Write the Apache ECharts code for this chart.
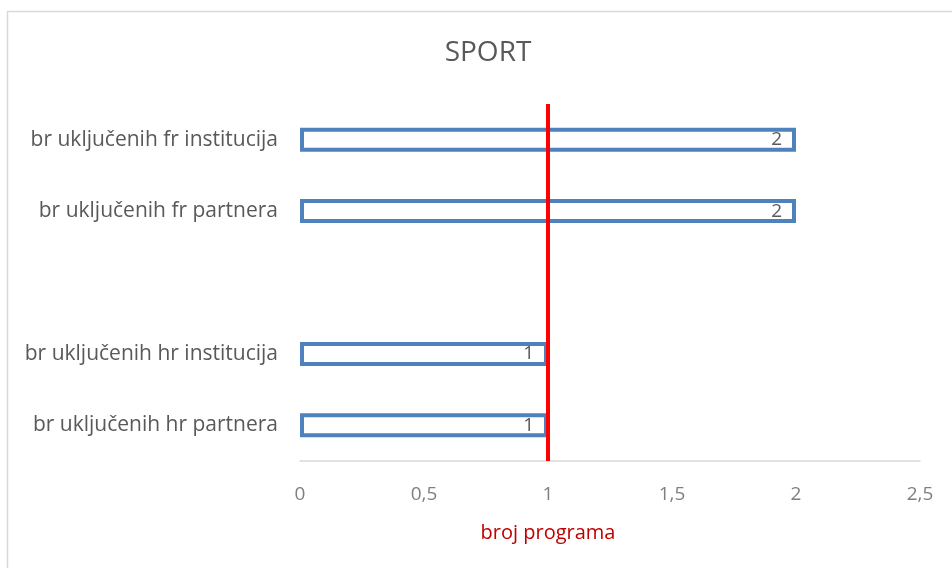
<!DOCTYPE html>
<html>
<head>
<meta charset="utf-8">
<script src="https://cdn.jsdelivr.net/npm/echarts@6/dist/echarts.min.js"></script>
<style>
  html, body { margin: 0; padding: 0; background: #fff; }
  #chart { width: 952px; height: 568px; }
</style>
</head>
<body>
<div id="chart"></div>
<script>
// kategorije odozdo prema gore (prazna kategorija = razmak)
const categories = ['br uključenih hr partnera', 'br uključenih hr institucija', '', 'br uključenih fr partnera', 'br uključenih fr institucija']
const values = [1, 1, null, 2, 2]
const refLine = 1
const xTicks = [0, 0.5, 1, 1.5, 2, 2.5]

const myChart = echarts.init(document.getElementById('chart'))
const font = 'Open Sans'
const option = {
  animation: false,
  title: {
    text: 'SPORT',
    left: 483,
    top: 34,
    textAlign: 'center',
    textStyle: { fontFamily: font, fontSize: 28, fontWeight: 'normal', color: '#595959' }
  },
  grid: { left: 300, right: 32, top: 104, bottom: 107 },
  xAxis: {
    type: 'value',
    min: xTicks[0],
    max: xTicks[xTicks.length - 1],
    interval: 0.5,
    axisLine: { show: true, lineStyle: { color: '#d9d9d9', width: 1.5 } },
    axisTick: { show: false },
    splitLine: { show: false },
    axisLabel: {
      margin: 24,
      fontFamily: font, fontSize: 19, color: '#7f7f7f',
      formatter: v => String(v).replace('.', ',')
    }
  },
  yAxis: {
    type: 'category',
    data: categories,
    axisLine: { show: false },
    axisTick: { show: false },
    axisLabel: { margin: 22, fontFamily: font, fontSize: 21, color: '#595959' }
  },
  graphic: [
    {
      type: 'rect',
      shape: { x: 7.5, y: 11.5, width: 980, height: 600 },
      style: { fill: 'none', stroke: '#d9d9d9', lineWidth: 1.5 },
      silent: true
    },
    {
      type: 'text',
      style: {
        x: 548, y: 533,
        text: 'broj programa', fontFamily: font, fontSize: 20, fill: '#c00000',
        textAlign: 'center', textVerticalAlign: 'middle'
      }
    }
  ],
  series: [
    {
      type: 'bar',
      data: values,
      barWidth: 24,
      itemStyle: { color: '#ffffff', borderColor: '#4f81bd', borderWidth: 4 },
      label: {
        show: true,
        position: 'insideRight',
        distance: 14,
        fontFamily: font, fontSize: 19, color: '#595959'
      },
      markLine: {
        symbol: 'none',
        silent: true,
        label: { show: false },
        lineStyle: { color: '#ff0000', width: 4, type: 'solid' },
        data: [{ xAxis: refLine }]
      }
    }
  ]
}
myChart.setOption(option)
</script>
</body>
</html>
